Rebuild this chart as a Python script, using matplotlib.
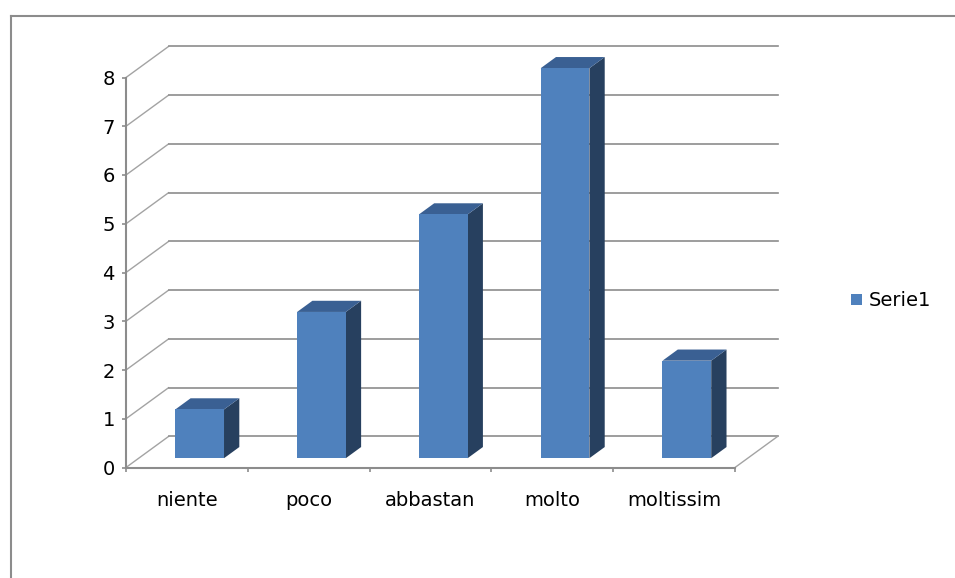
import matplotlib
matplotlib.use("Agg")
import matplotlib.pyplot as plt
from matplotlib.lines import Line2D
from matplotlib.patches import Patch, Polygon

# ---- data -----------------------------------------------------------
categories = ["niente", "poco", "abbastan", "molto", "moltissim"]
values = [1, 3, 5, 8, 2]
series_name = "Serie1"
y_ticks = [0, 1, 2, 3, 4, 5, 6, 7, 8]

# ---- style ----------------------------------------------------------
W, H, DPI = 955, 578, 100
GRID = "#8c8c8c"
DIAG = "#a3a3a3"
FRONT = "#4f81bd"
TOP = "#3a6093"
SIDE = "#27405f"

# oblique depth of the chart box, in data units (x: categories, y: values)
WALL_DX, WALL_DY = 0.349, 0.636
BAR_FRONT = 0.30   # where the bar front sits inside the depth
BAR_DEPTH = 0.36   # how deep a bar is, as fraction of the box depth
BAR_W = 0.40

fig = plt.figure(figsize=(W / DPI, H / DPI), dpi=DPI)
fig.patch.set_facecolor("white")

# outer chart frame (top and left edges are all that show)
fig.add_artist(Line2D([10.5 / W, 1.0], [1 - 15.5 / H, 1 - 15.5 / H],
                      transform=fig.transFigure, color=GRID, lw=1.5))
fig.add_artist(Line2D([10.5 / W, 10.5 / W], [0.0, 1 - 15.5 / H],
                      transform=fig.transFigure, color=GRID, lw=1.5))

# front plane of the plot box
ax = fig.add_axes([126 / W, (H - 467.5) / H, 609 / W, 390 / H])
n = len(categories)
ax.set_xlim(0, n)
ax.set_ylim(0, max(y_ticks))
ax.set_facecolor("none")
for side in ("top", "right"):
    ax.spines[side].set_visible(False)
for side in ("left", "bottom"):
    ax.spines[side].set_color(GRID)
    ax.spines[side].set_linewidth(1.5)

ax.set_yticks(y_ticks)
ax.set_yticklabels([str(t) for t in y_ticks])
ax.set_xticks(range(n + 1))
ax.set_xticklabels([])
ax.set_xticks([i + 0.5 for i in range(n)], minor=True)
ax.set_xticklabels(categories, minor=True)
ax.tick_params(axis="y", length=3, width=1.2, color=GRID, pad=5,
               labelsize=14, labelcolor="#000000")
ax.tick_params(axis="x", which="major", length=3, width=1.2, color=GRID)
ax.tick_params(axis="x", which="minor", length=0, pad=17,
               labelsize=14, labelcolor="#000000")

# back wall gridlines with their slanted side-wall links
for v in y_ticks:
    ax.plot([0, WALL_DX], [v, v + WALL_DY], color=DIAG, lw=1.0,
            clip_on=False, zorder=1)
    ax.plot([WALL_DX, n + WALL_DX], [v + WALL_DY, v + WALL_DY],
            color=GRID, lw=1.2, clip_on=False, zorder=1)
# right edge of the floor
ax.plot([n, n + WALL_DX], [0, WALL_DY], color=DIAG, lw=1.0,
        clip_on=False, zorder=1)

# 3D columns
fx, fy = BAR_FRONT * WALL_DX, BAR_FRONT * WALL_DY
bx, by = BAR_DEPTH * WALL_DX, BAR_DEPTH * WALL_DY
for i, val in enumerate(values):
    x0 = i + 0.5 - BAR_W / 2 + fx
    x1 = x0 + BAR_W
    y0 = fy
    y1 = val + fy
    side = Polygon([(x1, y0), (x1, y1), (x1 + bx, y1 + by), (x1 + bx, y0 + by)],
                   closed=True, facecolor=SIDE, edgecolor="none",
                   clip_on=False, zorder=3)
    top = Polygon([(x0, y1), (x1, y1), (x1 + bx, y1 + by), (x0 + bx, y1 + by)],
                  closed=True, facecolor=TOP, edgecolor="none",
                  clip_on=False, zorder=3)
    front = Polygon([(x0, y0), (x1, y0), (x1, y1), (x0, y1)],
                    closed=True, facecolor=FRONT, edgecolor="none",
                    clip_on=False, zorder=4)
    for p in (side, top, front):
        ax.add_patch(p)

# legend on the right
fig.legend(handles=[Patch(facecolor=FRONT, edgecolor="none", label=series_name)],
           loc="center left", bbox_to_anchor=(851 / W, 1 - 301 / H),
           frameon=False, fontsize=14, borderpad=0, borderaxespad=0,
           handlelength=0.55, handleheight=0.55, handletextpad=0.35)

fig.savefig("out.png", dpi=DPI)
